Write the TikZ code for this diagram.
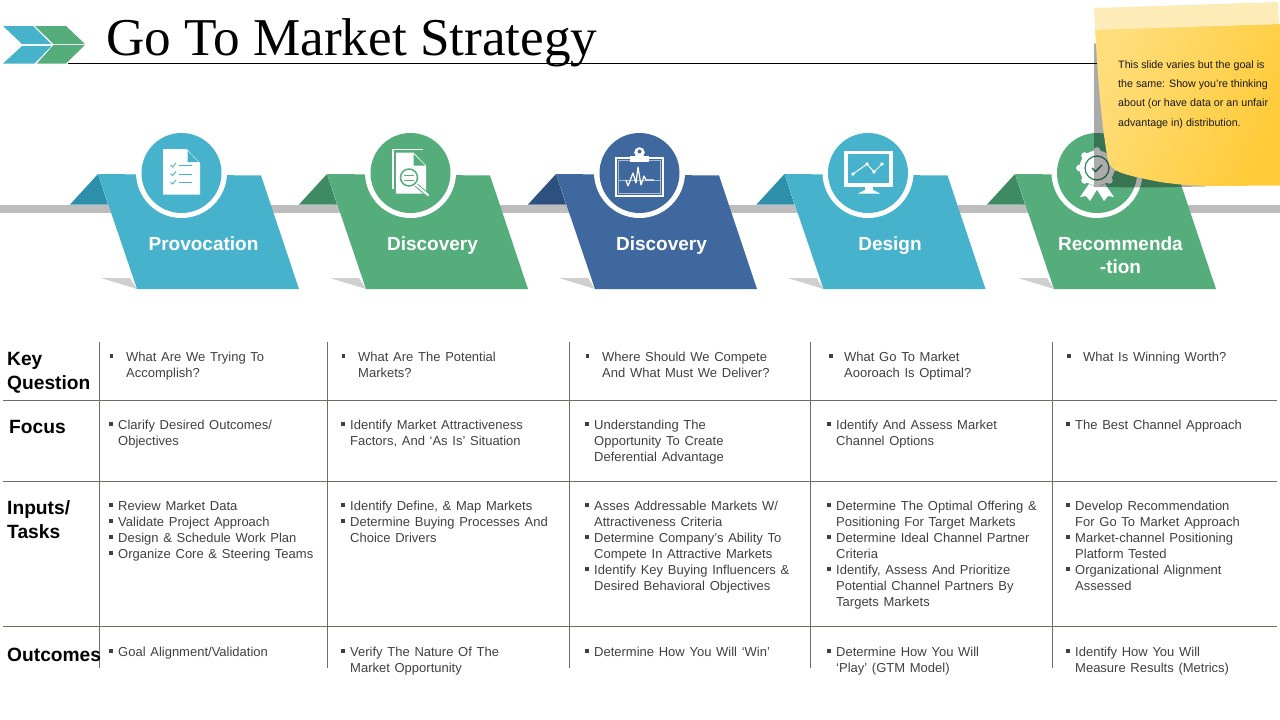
\documentclass[tikz,border=0pt]{standalone}
\usepackage{fontspec}
\setmainfont{Liberation Sans}
\newfontfamily\titlefont{Liberation Serif}
\newfontfamily\bodyfam[WordSpace=1.3]{Liberation Sans}
\definecolor{cblue}{HTML}{47B2CC}
\definecolor{cgreen}{HTML}{54AD7B}
\definecolor{cnavy}{HTML}{3F689F}
\definecolor{dblue}{HTML}{2E8FAB}
\definecolor{dgreen}{HTML}{3E8A63}
\definecolor{dnavy}{HTML}{2E5080}
\definecolor{barc}{HTML}{BDBDBD}
\definecolor{shadowc}{HTML}{CFCFCF}
\definecolor{gridc}{HTML}{6E6E64}
\definecolor{txt}{HTML}{404040}
\definecolor{notelight}{HTML}{FFDD7A}
\definecolor{notedark}{HTML}{FFCB38}
\definecolor{notestrip}{HTML}{FDEBB8}
\newcommand\bu[1][5.5]{\rule{0pt}{11pt}\llap{\textcolor{txt}{\rule[3.3pt]{3.5pt}{3.5pt}}\hspace{#1pt}}}
\newcommand\ribbon[6]{% name, dx, cx, main, dark, label
  \begin{scope}[xshift=#2pt]
    \fill[shadowc] (101,278) -- (130,278) -- (137,289) -- cycle;
    \fill[#5] (70,204.5) -- (98,174) -- (108,204.5) -- cycle;
    \fill[#4] (98,174) -- (137,289) -- (299,289) -- (261,175.5) -- cycle;
    \node[riblabel] (#1) at (203.5,236) {\rule{0pt}{14pt}#6};
  \end{scope}
  \fill[white] (#3,172.5) circle (45.5pt);
  \fill[#4] (#3,173) circle (40pt);
}
\tikzset{
  riblabel/.style={anchor=north,text=white,font=\bfseries\fontsize{19}{23}\selectfont,align=center,inner sep=0pt},
  rowhead/.style={anchor=north west,inner sep=0pt,align=left,font=\bfseries\fontsize{19.2}{23.5}\selectfont,text=black},
  body/.style={anchor=north west,inner sep=0pt,align=left,font=\bodyfam\fontsize{13}{16}\selectfont,text=txt},
  grid/.style={draw=gridc,line width=1pt}
}
\begin{document}
\begin{tikzpicture}[x=1pt,y=-1pt]
\useasboundingbox (0,0) rectangle (1280,720);
% logo
\fill[cblue] (3,26) -- (33,26) -- (51,44) -- (22,44) -- cycle;
\fill[cblue] (22,46) -- (51.5,46) -- (34.5,63.5) -- (3,63.5) -- cycle;
\fill[cgreen] (35,26) -- (66,26) -- (85,44) -- (53.5,44) -- cycle;
\fill[cgreen] (53.5,45) -- (85,45) -- (66,63.5) -- (37,63.5) -- cycle;
% title
\node[anchor=base west,inner sep=0pt,font=\titlefont\fontsize{53.2}{60}\selectfont] (title) at (106,55) {Go To Market Strategy};
\draw[black,line width=1pt] (68,63.5) -- (1100,63.5);
% bar
\fill[barc] (0,205) rectangle (1280,213);
% ribbons
\ribbon{r1}{0}{181.5}{cblue}{dblue}{Provocation}
\ribbon{r2}{229}{410.5}{cgreen}{dgreen}{Discovery}
\ribbon{r3}{458}{639.5}{cnavy}{dnavy}{Discovery}
\ribbon{r4}{686.5}{868}{cblue}{dblue}{Design}
\ribbon{r5}{917}{1097}{cgreen}{dgreen}{Recommenda\\-tion}
% icon 1
\fill[white] (163,149) -- (186.7,149) -- (200,163) -- (200,194.7) -- (163,194.7) -- cycle;
\fill[cblue] (187.5,150.5) -- (198.5,162) -- (187.5,162) -- cycle;
\foreach \yy in {165.5,174,182.5}{
  \draw[cblue,line width=0.9pt] (178.5,\yy) -- (192,\yy);
  \draw[cblue,line width=0.9pt] (170.5,\yy-0.5) -- (172.5,\yy+1.5) -- (176,\yy-2.5);
}
% icon 2
\draw[white,line width=1.2pt] (393,189) -- (393,149.5) -- (423,149.5);
\fill[white] (396,152.5) -- (413.5,152.5) -- (426,165.5) -- (426,193.5) -- (396,193.5) -- cycle;
\fill[cgreen] (413.5,154) -- (425,165.5) -- (413.5,165.5) -- cycle;
\draw[cgreen,line width=4pt] (415,184) -- (429,196);
\draw[white,line width=2pt] (415,184) -- (428.5,195.5);
\fill[white] (409,177.5) circle (11pt);
\draw[cgreen,line width=1.5pt] (409,177.5) circle (8.5pt);
\fill[cgreen] (404,174.5) rectangle (414,176);
\fill[cgreen] (404,179.5) rectangle (414,181);
% icon 3
\fill[white] (615,157) rectangle (664,197);
\fill[cnavy] (616.7,158.7) rectangle (662.3,195.3);
\draw[white!55!cnavy,line width=1pt] (618.5,160.5) rectangle (660.5,193.5);
\draw[white!55!cnavy,line width=1pt] (618.5,180) -- (660.5,180);
\fill[white] (630,156) rectangle (649,161.5);
\fill[white] (639.5,152.5) circle (5.3pt);
\fill[cnavy] (639.5,151.5) circle (2pt);
\draw[white,line width=1.2pt,line join=round] (626,180) -- (628,186) -- (633,173) -- (636,183) -- (638,167) -- (641,185) -- (644,176) -- (646,180) -- (654,180);
% icon 4
\fill[white] (844,150.7) rectangle (892.7,187.3);
\fill[cblue] (848,154) rectangle (888.5,183);
\fill[white] (865,187) -- (872.7,187) -- (873,190) -- (880,193.5) -- (858,193.5) -- (865,190) -- cycle;
\draw[white,line width=1pt] (853,174) -- (867,164) -- (874,172) -- (882,164);
\foreach \px/\py in {853/174,867/164,874/172,882/164} \fill[white] (\px,\py) circle (1.9pt);
% icon 5
\fill[white] (1089,184) -- (1080,197) -- (1086,196) -- (1090,201) -- (1098,188) -- cycle;
\fill[white] (1105,184) -- (1114,197) -- (1108,196) -- (1104,201) -- (1096,188) -- cycle;
\fill[white] (1097,168) circle (17.5pt);
\foreach \aa in {0,45,...,315} \fill[white] (1097,168) ++(\aa:17.5pt) circle (3.4pt);
\draw[dgreen,line width=1.3pt] (1097,168) circle (12pt);
\draw[dgreen,line width=1.5pt] (1092,168) -- (1095.5,171.5) -- (1102,165);
% table grid
\foreach \yy in {400.5,481.5,626.5} \draw[grid] (3,\yy) -- (1277,\yy);
\foreach \xx in {99.5,327.5,569.5,810.5,1052.5} \draw[grid] (\xx,342) -- (\xx,668);
% row heads
\node[rowhead] (h1) at (7,352.5) {Key\\Question};
\node[rowhead] (h2) at (9,420.5) {Focus};
\node[rowhead] (h3) at (7,500.5) {Inputs/\\Tasks};
\node[rowhead] (h4) at (7,647.5) {Outcomes};
% key question
\node[body] (k1) at (126,350) {\bu[13]What Are We Trying To\\Accomplish?};
\node[body] (k2) at (358,350) {\bu[13]What Are The Potential\\Markets?};
\node[body] (k3) at (602,350) {\bu[13]Where Should We Compete\\And What Must We Deliver?};
\node[body] (k4) at (844,350) {\bu[11.5]What Go To Market\\Aooroach Is Optimal?};
\node[body] (k5) at (1083,350) {\bu[12.5]What Is Winning Worth?};
% focus
\node[body] (f1) at (118,418) {\bu Clarify Desired Outcomes/\\Objectives};
\node[body] (f2) at (350,418) {\bu Identify Market Attractiveness\\Factors, And ‘As Is’ Situation};
\node[body] (f3) at (594,418) {\bu Understanding The\\Opportunity To Create\\Deferential Advantage};
\node[body] (f4) at (836,418) {\bu Identify And Assess Market\\Channel Options};
\node[body] (f5) at (1075,418) {\bu The Best Channel Approach};
% inputs
\node[body] (i1) at (118,499) {\bu Review Market Data\\\bu Validate Project Approach\\\bu Design \& Schedule Work Plan\\\bu Organize Core \& Steering Teams};
\node[body] (i2) at (350,499) {\bu Identify Define, \& Map Markets\\\bu Determine Buying Processes And\\Choice Drivers};
\node[body] (i3) at (594,499) {\bu Asses Addressable Markets W/\\Attractiveness Criteria\\\bu Determine Company’s Ability To\\Compete In Attractive Markets\\\bu Identify Key Buying Influencers \&\\Desired Behavioral Objectives};
\node[body] (i4) at (836,499) {\bu Determine The Optimal Offering \&\\Positioning For Target Markets\\\bu Determine Ideal Channel Partner\\Criteria\\\bu Identify, Assess And Prioritize\\Potential Channel Partners By\\Targets Markets};
\node[body] (i5) at (1075,499) {\bu Develop Recommendation\\For Go To Market Approach\\\bu Market-channel Positioning\\Platform Tested\\\bu Organizational Alignment\\Assessed};
% outcomes
\node[body] (o1) at (118,645) {\bu Goal Alignment/Validation};
\node[body] (o2) at (350,645) {\bu Verify The Nature Of The\\Market Opportunity};
\node[body] (o3) at (594,645) {\bu Determine How You Will ‘Win’};
\node[body] (o4) at (836,645) {\bu Determine How You Will\\‘Play’ (GTM Model)};
\node[body] (o5) at (1075,645) {\bu Identify How You Will\\Measure Results (Metrics)};
% sticky note
\fill[black,opacity=0.33] (1094,43) -- (1094,187) -- (1150,187.5) -- (1205,186.5) -- (1205,100) -- cycle;
\shade[shading=axis,left color=notelight,right color=notedark,shading angle=65]
  (1095,29) .. controls (1098,80) and (1102,130) .. (1108,160)
  .. controls (1110,172) and (1125,175) .. (1160,182)
  .. controls (1180,185) and (1200,186) .. (1213,186) -- (1280,185.5) -- (1280,24) -- cycle;
\fill[notestrip] (1094,8) -- (1278,2) -- (1279,24) -- (1095,30) -- cycle;
\node[anchor=north west,inner sep=0pt,align=left,font=\fontsize{10.7}{19.2}\selectfont,text=black!90] (note) at (1118,60.5) {This slide varies but the goal is\\the same: Show you’re thinking\\about (or have data or an unfair\\advantage in) distribution.};
\end{tikzpicture}
\end{document}
